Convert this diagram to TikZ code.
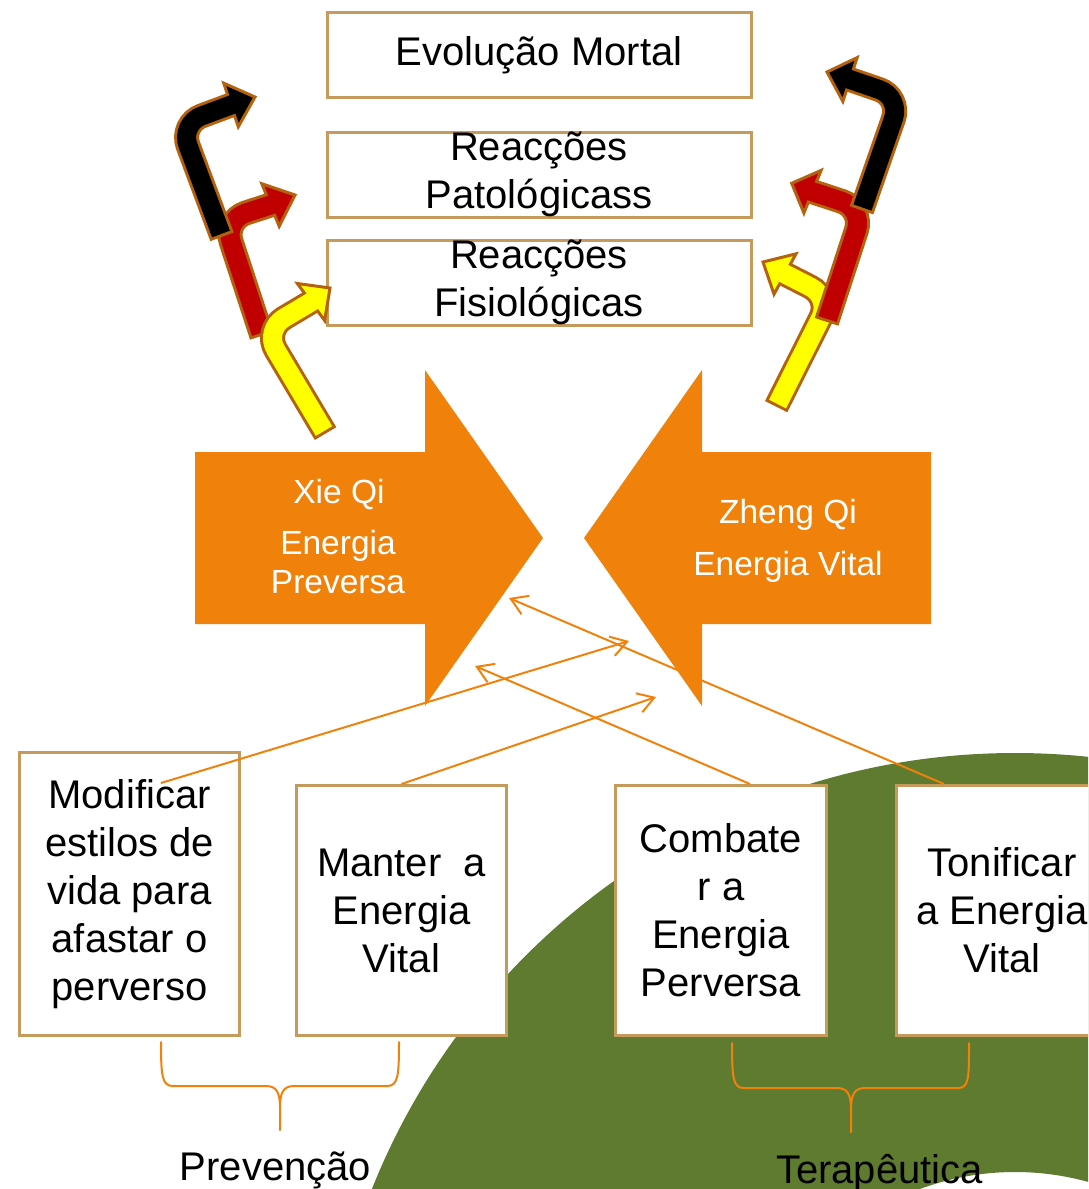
\documentclass[tikz,border=0pt]{standalone}
\usepackage{fontspec}
\setmainfont{Liberation Sans}
\usetikzlibrary{arrows.meta,calc}
\definecolor{orangeM}{RGB}{240,130,12}
\definecolor{boxtan}{RGB}{197,154,91}
\definecolor{brownE}{RGB}{181,98,14}
\definecolor{redA}{RGB}{192,0,0}
\definecolor{yellowA}{RGB}{255,255,0}
\definecolor{blackA}{RGB}{0,0,0}
\definecolor{greenG}{RGB}{94,123,48}
\newcommand\bentarrow[5]{%
  \draw[brownE, line width=25pt, rounded corners=23pt, shorten <=-3pt] (#2) -- (#3) -- (#4);
  \filldraw[fill=#1, draw=brownE, line width=3pt, line join=miter]
    (#5) -- ($(#4)!23pt!90:(#5)$) -- ($(#4)!23pt!-90:(#5)$) -- cycle;
  \draw[#1, line width=19pt, rounded corners=23pt, shorten >=-4pt] (#2) -- (#3) -- (#4);
}
\begin{document}
\begin{tikzpicture}[x=1pt,y=-1pt,
  box/.style={draw=boxtan, line width=3pt, fill=white, inner sep=0pt, align=center,
              font=\fontsize{40}{48}\selectfont},
  lbl/.style={font=\fontsize{40}{48}\selectfont},
  wlbl/.style={text=white, font=\fontsize{33.5}{38.4}\selectfont, align=center},
  bigarrow/.style={fill=orangeM},
  thinarr/.style={draw=orangeM, line width=2pt, -{Straight Barb[length=16pt,width=20pt]}},
  bracestyle/.style={draw=orangeM, line width=2pt, line cap=round}
]
\useasboundingbox (0,0) rectangle (1088,1189);
\clip (0,0) rectangle (1088,1189);

% green ring
\fill[greenG, even odd rule] (1015,1445) circle [radius=692pt] (1015,1445) circle [radius=273pt];

% big orange arrows
\fill[bigarrow] (195,452) -- (425,452) -- (425,370) -- (543,538) -- (425,706) -- (425,624) -- (195,624) -- cycle;
\fill[bigarrow] (931,452) -- (702,452) -- (702,370) -- (584,538) -- (702,706) -- (702,624) -- (931,624) -- cycle;
\node[wlbl, anchor=base] (xie) at (339,503) {Xie Qi};
\node[wlbl, anchor=base] (xieE) at (338,593) {Energia\\Preversa};
\node[wlbl, anchor=base] (zheng) at (788,523) {Zheng Qi};
\node[wlbl, anchor=base] (zhengE) at (788,575) {Energia Vital};

% upper boxes
\node[box, minimum width=424pt, minimum height=85pt] (evol) at (539,55) {Evolução Mortal};
\node[box, minimum width=424pt, minimum height=85pt] (pato) at (539,174.5) {Reacções\\Patológicass};
\node[box, minimum width=424pt, minimum height=85pt] (fisio) at (539,282.5) {Reacções\\Fisiológicas};

% bent arrows, left
\coordinate (lrT) at (261,333); \coordinate (lrC) at (224,220); \coordinate (lrB) at (270.5,205); \coordinate (lrP) at (295,195);
\coordinate (lkT) at (221,234); \coordinate (lkC) at (180,124); \coordinate (lkB) at (231,105); \coordinate (lkP) at (255,97);
\coordinate (lyT) at (324,431); \coordinate (lyC) at (264,330); \coordinate (lyB) at (311,302); \coordinate (lyP) at (330,288);
\bentarrow{redA}{lrT}{lrC}{lrB}{lrP}
\bentarrow{blackA}{lkT}{lkC}{lkB}{lkP}
\bentarrow{yellowA}{lyT}{lyC}{lyB}{lyP}

% bent arrows, right
\coordinate (ryT) at (777.5,404); \coordinate (ryC) at (831,297.5); \coordinate (ryB) at (785,274); \coordinate (ryP) at (763,262);
\coordinate (rrT) at (827.5,319); \coordinate (rrC) at (863.5,208.5); \coordinate (rrB) at (812.5,191.7); \coordinate (rrP) at (791.7,183.3);
\coordinate (rkT) at (862.5,207.5); \coordinate (rkC) at (901,97); \coordinate (rkB) at (850,79.5); \coordinate (rkP) at (827,72);
\bentarrow{yellowA}{ryT}{ryC}{ryB}{ryP}
\bentarrow{redA}{rrT}{rrC}{rrB}{rrP}
\bentarrow{blackA}{rkT}{rkC}{rkB}{rkP}

% lower boxes
\node[box, minimum width=220pt, minimum height=283pt] (modif) at (129.5,894) {Modificar\\estilos de\\vida para\\afastar o\\perverso};
\node[box, minimum width=210pt, minimum height=250pt] (manter) at (401.5,910.5) {Manter\ \ a\\Energia\\Vital};
\node[box, minimum width=211pt, minimum height=250pt] (combate) at (721,910.5) {Combate\\r a\\Energia\\Perversa};
\node[box, minimum width=211pt, minimum height=250pt] (tonif) at (1002,910.5) {Tonificar\\a Energia\\Vital};

% thin arrows
\coordinate (s1) at ($(modif.north)+(31.5,32)$);
\coordinate (s2) at (manter.north);
\coordinate (s3) at ($(combate.north)+(29,0)$);
\coordinate (s4) at ($(tonif.north)+(-58,0)$);
\coordinate (t1) at (629,641);
\coordinate (t2) at (656,697);
\coordinate (t3) at (475,666);
\coordinate (t4) at (509,598);
\draw[thinarr] (s1) -- (t1);
\draw[thinarr] (s2) -- (t2);
\draw[thinarr] (s3) -- (t3);
\draw[thinarr] (s4) -- (t4);

% braces
\draw[bracestyle] (161,1042) .. controls (161,1076) and (162,1086) .. (173,1086) -- (266,1086)
  .. controls (277,1086) and (280,1093) .. (280,1108) -- (280,1130);
\draw[bracestyle] (280,1108) .. controls (280,1093) and (283,1086) .. (294,1086) -- (387,1086)
  .. controls (398,1086) and (399,1076) .. (399,1042);
\draw[bracestyle] (732,1043) .. controls (732,1078) and (733,1088) .. (744,1088) -- (837,1088)
  .. controls (848,1088) and (851,1095) .. (851,1110) -- (851,1132);
\draw[bracestyle] (851,1110) .. controls (851,1095) and (854,1088) .. (865,1088) -- (958,1088)
  .. controls (969,1088) and (969,1078) .. (969,1043);

% labels
\node[lbl, anchor=base] (prev) at (275.5,1180) {Prevenção};
\node[lbl, anchor=base] (tera) at (879.5,1183) {Terapêutica};
\end{tikzpicture}
\end{document}
